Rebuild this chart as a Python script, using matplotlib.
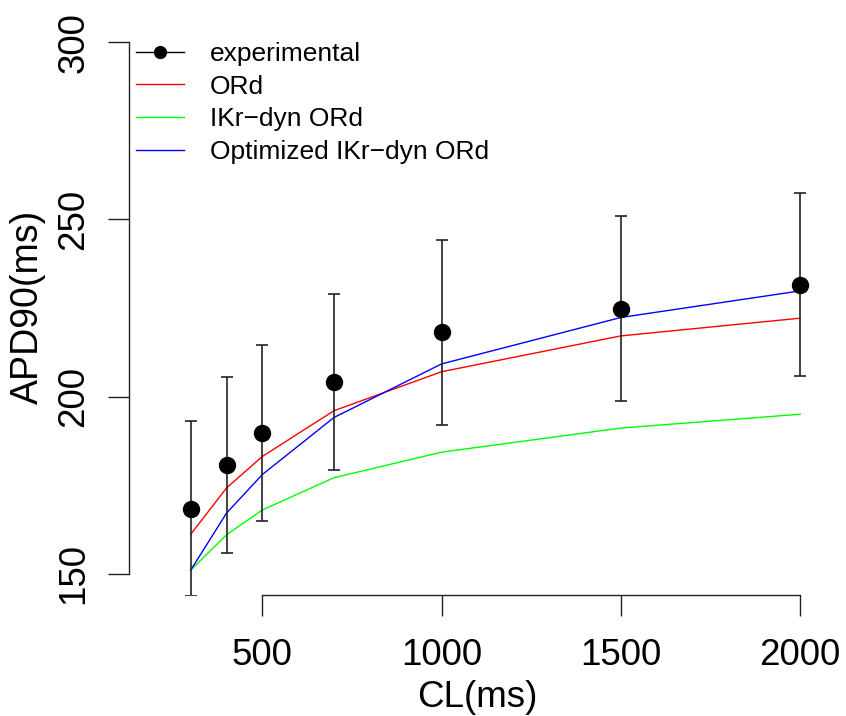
import matplotlib
matplotlib.use("Agg")
import matplotlib.pyplot as plt
from matplotlib.lines import Line2D

plt.rcParams['font.family'] = ['Liberation Sans', 'DejaVu Sans']

# Data
cl = [300, 400, 500, 700, 1000, 1500, 2000]
exp_mean = [168.4, 180.6, 189.6, 204.1, 218.1, 224.8, 231.5]
exp_sd = [24.6, 24.8, 24.8, 24.8, 26.0, 26.0, 25.8]
ord_apd = [161.1, 174.2, 183.1, 196.0, 207.0, 217.1, 222.1]
ikr_dyn = [151.0, 161.0, 168.0, 177.1, 184.3, 191.1, 195.0]
opt_ikr = [151.0, 167.1, 178.0, 194.1, 209.2, 222.3, 229.8]
xticks = [500, 1000, 1500, 2000]
yticks = [150, 200, 250, 300]

W, H = 846, 716
fig = plt.figure(figsize=(W / 100, H / 100), dpi=100)
left, right, top, bottom = 129, 826, 20.8, 595
ax = fig.add_axes([left / W, 1 - bottom / H, (right - left) / W, (bottom - top) / H])

ax.plot(cl, ord_apd, color='#FF0000', lw=1.0)
ax.plot(cl, ikr_dyn, color='#00FF00', lw=1.0)
ax.plot(cl, opt_ikr, color='#0000FF', lw=1.0)
ax.errorbar(cl, exp_mean, yerr=exp_sd, fmt='none', ecolor='#222222',
            elinewidth=1.2, capsize=4.5, capthick=1.2)
ax.plot(cl, exp_mean, 'o', color='black', markersize=11.5)

ax.set_xlim(128, 2072)
ax.set_ylim(144, 306)

for s in ['top', 'right']:
    ax.spines[s].set_visible(False)
ax.spines['left'].set_bounds(150, 300)
ax.spines['bottom'].set_bounds(500, 2000)
for s in ['left', 'bottom']:
    ax.spines[s].set_color('#222222')
    ax.spines[s].set_linewidth(1.0)

ax.set_xticks(xticks)
ax.set_yticks(yticks)
ax.set_xticklabels([str(v) for v in xticks], fontsize=26.5)
ax.set_yticklabels([str(v) for v in yticks], fontsize=26.5, rotation=90, va='center')
ax.tick_params(axis='both', direction='out', length=15, width=1.0, color='#222222')
ax.tick_params(axis='x', pad=16)
ax.tick_params(axis='y', pad=12)

fig.text(28 / W, 1 - 307 / H, 'APD90(ms)', rotation=90, ha='center', va='center', fontsize=27)
fig.text(477 / W, 1 - 707 / H, 'CL(ms)', ha='center', va='baseline', fontsize=26.5)

handles = [
    Line2D([], [], color='black', lw=1.0, marker='o', markersize=8.5),
    Line2D([], [], color='#FF0000', lw=1.0),
    Line2D([], [], color='#00FF00', lw=1.0),
    Line2D([], [], color='#0000FF', lw=1.0),
]
labels = ['experimental', 'ORd', 'IKr\u2212dyn ORd', 'Optimized IKr\u2212dyn ORd']
fig.legend(handles, labels, loc='upper left', bbox_to_anchor=(136 / W, 1 - 42 / H),
           frameon=False, fontsize=19, handlelength=1.8, handletextpad=1.0,
           labelspacing=0.33, borderaxespad=0, borderpad=0)

fig.savefig('out.png', dpi=100)
